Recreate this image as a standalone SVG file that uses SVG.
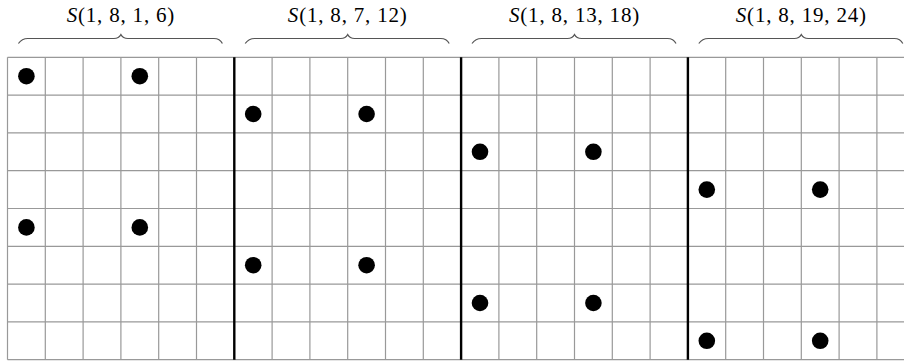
<svg xmlns="http://www.w3.org/2000/svg" width="904" height="364" viewBox="0 0 904 364">
<defs>
<style>
.grid{stroke:#999;stroke-width:1.2;fill:none}
.sep{stroke:#000;stroke-width:2.4}
.brace{stroke:#555;stroke-width:1.2;fill:none}
.dot{fill:#000}
.lbl{font-family:"Liberation Serif","DejaVu Serif",serif;font-size:21px;letter-spacing:0.8px;fill:#000;text-anchor:middle}
.it{font-style:italic}
</style>
<path id="br" class="brace" d="M-102.5,43.5 Q-99,38.5 -93,38.5 L-7,38.5 Q-2,38.5 0,34.5 Q2,38.5 7,38.5 L93,38.5 Q99,38.5 101.5,43.5"/>
</defs>
<rect width="904" height="364" fill="#fff"/>
<g id="grid">
<path class="grid" d="M7.5,57.3H904M7.5,95.1H904M7.5,132.9H904M7.5,170.7H904M7.5,208.5H904M7.5,246.3H904M7.5,284.1H904M7.5,321.9H904M7.5,359.7H904"/>
<path class="grid" d="M7.5,57.3V359.7M45.3,57.3V359.7M83.1,57.3V359.7M120.9,57.3V359.7M158.7,57.3V359.7M196.5,57.3V359.7M272.1,57.3V359.7M309.9,57.3V359.7M347.7,57.3V359.7M385.5,57.3V359.7M423.3,57.3V359.7M498.9,57.3V359.7M536.7,57.3V359.7M574.5,57.3V359.7M612.3,57.3V359.7M650.1,57.3V359.7M725.7,57.3V359.7M763.5,57.3V359.7M801.3,57.3V359.7M839.1,57.3V359.7M876.9,57.3V359.7"/>
<path class="sep" d="M234.3,57.3V359.7M461.1,57.3V359.7M687.9,57.3V359.7"/>
</g>
<g id="block1">
<use href="#br" x="120.9"/>
<text class="lbl" x="120.9" y="22"><tspan class="it">S</tspan>(1, 8, 1, 6)</text>
<circle class="dot" cx="26.4" cy="76.2" r="8.3"/>
<circle class="dot" cx="139.8" cy="76.2" r="8.3"/>
<circle class="dot" cx="26.4" cy="227.4" r="8.3"/>
<circle class="dot" cx="139.8" cy="227.4" r="8.3"/>
</g>
<g id="block2">
<use href="#br" x="347.7"/>
<text class="lbl" x="347.7" y="22"><tspan class="it">S</tspan>(1, 8, 7, 12)</text>
<circle class="dot" cx="253.2" cy="114" r="8.3"/>
<circle class="dot" cx="366.6" cy="114" r="8.3"/>
<circle class="dot" cx="253.2" cy="265.2" r="8.3"/>
<circle class="dot" cx="366.6" cy="265.2" r="8.3"/>
</g>
<g id="block3">
<use href="#br" x="574.5"/>
<text class="lbl" x="574.5" y="22"><tspan class="it">S</tspan>(1, 8, 13, 18)</text>
<circle class="dot" cx="480" cy="151.8" r="8.3"/>
<circle class="dot" cx="593.4" cy="151.8" r="8.3"/>
<circle class="dot" cx="480" cy="303" r="8.3"/>
<circle class="dot" cx="593.4" cy="303" r="8.3"/>
</g>
<g id="block4">
<use href="#br" x="801.3"/>
<text class="lbl" x="801.3" y="22"><tspan class="it">S</tspan>(1, 8, 19, 24)</text>
<circle class="dot" cx="706.8" cy="189.6" r="8.3"/>
<circle class="dot" cx="820.2" cy="189.6" r="8.3"/>
<circle class="dot" cx="706.8" cy="340.8" r="8.3"/>
<circle class="dot" cx="820.2" cy="340.8" r="8.3"/>
</g>
</svg>
